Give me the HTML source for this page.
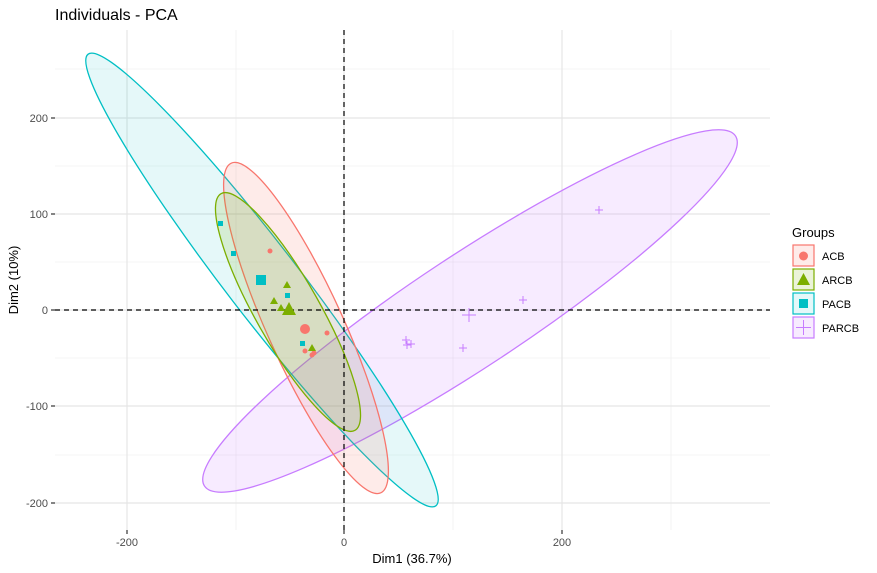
<!DOCTYPE html>
<html><head><meta charset="utf-8"><style>body{margin:0;background:#fff}svg{display:block;font-family:"Liberation Sans",sans-serif}</style></head><body>
<svg width="877" height="573" xmlns="http://www.w3.org/2000/svg">
<rect width="877" height="573" fill="#fff"/>
<g stroke="#ebebeb" stroke-width="0.6">
<line x1="55" x2="770" y1="69" y2="69"/><line x1="55" x2="770" y1="166" y2="166"/><line x1="55" x2="770" y1="262" y2="262"/><line x1="55" x2="770" y1="358" y2="358"/><line x1="55" x2="770" y1="455" y2="455"/>
<line y1="30" y2="530" x1="236" x2="236"/><line y1="30" y2="530" x1="453" x2="453"/><line y1="30" y2="530" x1="671" x2="671"/>
</g>
<g stroke="#e5e5e5" stroke-width="1.2">
<line x1="55" x2="770" y1="118" y2="118"/><line x1="55" x2="770" y1="214" y2="214"/><line x1="55" x2="770" y1="310" y2="310"/><line x1="55" x2="770" y1="406" y2="406"/><line x1="55" x2="770" y1="503" y2="503"/>
<line y1="30" y2="530" x1="127" x2="127"/><line y1="30" y2="530" x1="344" x2="344"/><line y1="30" y2="530" x1="562" x2="562"/>
</g>
<g stroke-width="1.3">
<ellipse cx="470" cy="311" rx="318" ry="56" transform="rotate(-33.4 470 311)" fill="#c77cff" fill-opacity="0.15" stroke="#c77cff"/>
<ellipse cx="262" cy="280" rx="285" ry="36" transform="rotate(52.4 262 280)" fill="#00bfc4" fill-opacity="0.1" stroke="#00bfc4"/>
<ellipse cx="306" cy="328" rx="181" ry="38" transform="rotate(65.6 306 328)" fill="#f8766d" fill-opacity="0.15" stroke="#f8766d"/>
<ellipse cx="288" cy="312" rx="136" ry="32" transform="rotate(60.5 288 312)" fill="#7cae00" fill-opacity="0.15" stroke="#7cae00"/>
</g>
<g stroke="#000" stroke-width="1.2" stroke-dasharray="5,4">
<line x1="55" x2="770" y1="310" y2="310"/><line x1="344" x2="344" y1="30" y2="530"/>
</g>
<g fill="#f8766d">
<circle cx="270" cy="251" r="2.5"/><circle cx="305" cy="329" r="5"/><circle cx="327" cy="333" r="2.5"/><circle cx="305" cy="351" r="2.5"/><circle cx="312" cy="355" r="2.5"/><circle cx="314" cy="353" r="2.5"/>
</g>
<g fill="#7cae00">
<polygon points="287,281 291,288 283,288"/><polygon points="274,297 278,304 270,304"/><polygon points="281,304 285,311 277,311"/><polygon points="289,302 296,315 282,315"/><polygon points="312,344 316,351 308,351"/>
</g>
<g fill="#00bfc4">
<rect x="218" y="221" width="5" height="5"/><rect x="231" y="251" width="5" height="5"/><rect x="256" y="275" width="10" height="10"/><rect x="285" y="293" width="5" height="5"/><rect x="300" y="341" width="5" height="5"/>
</g>
<g stroke="#c77cff" stroke-width="1">
<path d="M595 210h8M599 206v8M519 300h8M523 296v8M462 315h14M469 308v14M402 340h8M406 336v8M407 344h8M411 340v8M459 348h8M463 344v8M403 345h8M407 341v8"/>
</g>
<g stroke="#333" stroke-width="1.2">
<line x1="51" x2="55" y1="118" y2="118"/><line x1="51" x2="55" y1="214" y2="214"/><line x1="51" x2="55" y1="310" y2="310"/><line x1="51" x2="55" y1="406" y2="406"/><line x1="51" x2="55" y1="503" y2="503"/>
<line x1="127" x2="127" y1="530" y2="534"/><line x1="344" x2="344" y1="530" y2="534"/><line x1="562" x2="562" y1="530" y2="534"/>
</g>
<g font-size="11" fill="#4d4d4d" text-anchor="end">
<text x="48" y="122">200</text><text x="48" y="218">100</text><text x="48" y="314">0</text><text x="48" y="410">-100</text><text x="48" y="507">-200</text>
</g>
<g font-size="11" fill="#4d4d4d" text-anchor="middle">
<text x="127" y="546">-200</text><text x="344" y="546">0</text><text x="562" y="546">200</text>
</g>
<text x="412" y="563" font-size="13" text-anchor="middle">Dim1 (36.7%)</text>
<text x="18" y="280" font-size="13" text-anchor="middle" transform="rotate(-90 18 280)">Dim2 (10%)</text>
<text x="55" y="20" font-size="16">Individuals - PCA</text>
<text x="792" y="237" font-size="13">Groups</text>
<g stroke-width="1.2">
<rect x="793" y="245" width="21" height="21" fill="#f8766d" fill-opacity="0.15" stroke="#f8766d"/>
<rect x="793" y="269" width="21" height="21" fill="#7cae00" fill-opacity="0.15" stroke="#7cae00"/>
<rect x="793" y="293" width="21" height="21" fill="#00bfc4" fill-opacity="0.1" stroke="#00bfc4"/>
<rect x="793" y="317" width="21" height="21" fill="#c77cff" fill-opacity="0.15" stroke="#c77cff"/>
</g>
<circle cx="803.5" cy="256" r="4.5" fill="#f8766d"/>
<polygon points="803.5,273 810,285 797,285" fill="#7cae00"/>
<rect x="799" y="299" width="9" height="9" fill="#00bfc4"/>
<path d="M796 327.5h15M803.5 320v15" stroke="#c77cff" stroke-width="1"/>
<g font-size="11" fill="#000">
<text x="822" y="260">ACB</text><text x="822" y="284">ARCB</text><text x="822" y="308">PACB</text><text x="822" y="332">PARCB</text>
</g>
</svg>
</body></html>
